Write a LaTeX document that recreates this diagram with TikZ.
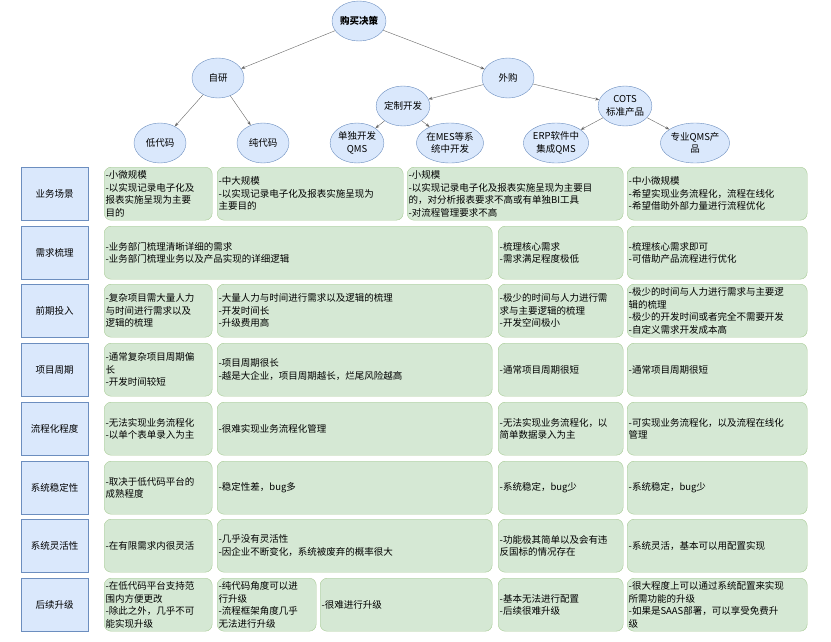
\documentclass[tikz,border=0pt]{standalone}
\usepackage{fontspec}
\setmainfont{Noto Sans CJK SC}
\usetikzlibrary{arrows.meta,shapes.geometric}
\definecolor{bluefill}{HTML}{DAE8FC}
\definecolor{blueline}{HTML}{6C8EBF}
\definecolor{greenfill}{HTML}{D5E8D4}
\definecolor{greenline}{HTML}{82B366}
\tikzset{every node/.style={font=\fontsize{9.5}{12.5}\selectfont}}
\tikzset{choice/.style={ellipse, draw=blueline, fill=bluefill, minimum width=52pt, minimum height=40pt, inner sep=0pt, align=center}}
\tikzset{head/.style={rectangle, draw=blueline, fill=bluefill, line width=0.8pt, minimum height=53pt, align=center}}
\tikzset{cell/.style={rectangle, rounded corners=7pt, draw=greenline!70, fill=greenfill, minimum height=53pt, inner xsep=1.5pt, align=left}}
\tikzset{link/.style={draw=black!60, -{Stealth[length=4pt,width=3pt]}}}
% name, left, right, top, style, text
\newcommand\cell[6]{%
  \pgfmathsetmacro\cw{#3-#2}\pgfmathsetmacro\tw{#3-#2-3}%
  \node[#5, minimum width=\cw pt, text width=\tw pt, anchor=north west] (#1) at (#2,#4) {#6};}

\begin{document}
\begin{tikzpicture}[x=1pt,y=-1pt]
\useasboundingbox (0,0) rectangle (831,641);
% tree
\node[choice, minimum width=54pt, font=\fontsize{9.5}{12.5}\selectfont\bfseries] (root) at (359,21) {购买决策};
\node[choice] (zy) at (218,78) {自研};
\node[choice] (wg) at (508,78) {外购};
\node[choice] (dz) at (403,106) {定制开发};
\node[choice] (cots) at (625,106) {COTS\\标准产品};
\node[choice] (ldm) at (160,143) {低代码};
\node[choice] (cdm) at (263,143) {纯代码};
\node[choice] (djkf) at (357,143) {单独开发\\QMS};
\node[choice] (mes) at (450,143) {在MES等系\\统中开发};
\node[choice] (erp) at (556,143) {ERP软件中\\集成QMS};
\node[choice] (zyqms) at (695,143) {专业QMS产\\品};
\draw[link] (root) -- (zy);
\draw[link] (root) -- (wg);
\draw[link] (zy) -- (ldm);
\draw[link] (zy) -- (cdm);
\draw[link] (wg) -- (dz);
\draw[link] (wg) -- (cots);
\draw[link] (dz) -- (djkf);
\draw[link] (dz) -- (mes);
\draw[link] (cots) -- (erp);
\draw[link] (cots) -- (zyqms);
% row heads
\cell{h1}{21}{84}{167}{head}{业务场景}
\cell{h2}{21}{84}{226}{head}{需求梳理}
\cell{h3}{21}{84}{284}{head}{前期投入}
\cell{h4}{21}{84}{343}{head}{项目周期}
\cell{h5}{21}{84}{402}{head}{流程化程度}
\cell{h6}{21}{84}{461}{head}{系统稳定性}
\cell{h7}{21}{84}{519}{head}{系统灵活性}
\cell{h8}{21}{84}{578}{head}{后续升级}
% row 1
\cell{a1}{104}{212}{167}{cell}{-小微规模\\-以实现记录电子化及\\报表实施呈现为主要\\目的}
\cell{b1}{217}{403}{167}{cell}{-中大规模\\-以实现记录电子化及报表实施呈现为\\主要目的}
\cell{c1}{407}{623}{167}{cell}{-小规模\\-以实现记录电子化及报表实施呈现为主要目\\的，对分析报表要求不高或有单独BI工具\\-对流程管理要求不高}
\cell{d1}{627}{807}{167}{cell}{-中小微规模\\-希望实现业务流程化，流程在线化\\-希望借助外部力量进行流程优化}
% row 2
\cell{a2}{104}{492}{226}{cell}{-业务部门梳理清晰详细的需求\\-业务部门梳理业务以及产品实现的详细逻辑}
\cell{c2}{498}{623}{226}{cell}{-梳理核心需求\\-需求满足程度极低}
\cell{d2}{627}{807}{226}{cell}{-梳理核心需求即可\\-可借助产品流程进行优化}
% row 3
\cell{a3}{104}{212}{284}{cell}{-复杂项目需大量人力\\与时间进行需求以及\\逻辑的梳理}
\cell{b3}{217}{492}{284}{cell}{-大量人力与时间进行需求以及逻辑的梳理\\-开发时间长\\-升级费用高}
\cell{c3}{498}{623}{284}{cell}{-极少的时间与人力进行需\\求与主要逻辑的梳理\\-开发空间极小}
\cell{d3}{627}{807}{284}{cell}{-极少的时间与人力进行需求与主要逻\\辑的梳理\\-极少的开发时间或者完全不需要开发\\-自定义需求开发成本高}
% row 4
\cell{a4}{104}{212}{343}{cell}{-通常复杂项目周期偏\\长\\-开发时间较短}
\cell{b4}{217}{492}{343}{cell}{-项目周期很长\\-越是大企业，项目周期越长，烂尾风险越高}
\cell{c4}{498}{623}{343}{cell}{-通常项目周期很短}
\cell{d4}{627}{807}{343}{cell}{-通常项目周期很短}
% row 5
\cell{a5}{104}{212}{402}{cell}{-无法实现业务流程化\\-以单个表单录入为主}
\cell{b5}{217}{492}{402}{cell}{-很难实现业务流程化管理}
\cell{c5}{498}{623}{402}{cell}{-无法实现业务流程化，以\\简单数据录入为主}
\cell{d5}{627}{807}{402}{cell}{-可实现业务流程化，以及流程在线化\\管理}
% row 6
\cell{a6}{104}{212}{461}{cell}{-取决于低代码平台的\\成熟程度}
\cell{b6}{217}{492}{461}{cell}{-稳定性差，bug多}
\cell{c6}{498}{623}{461}{cell}{-系统稳定，bug少}
\cell{d6}{627}{807}{461}{cell}{-系统稳定，bug少}
% row 7
\cell{a7}{104}{212}{519}{cell}{-在有限需求内很灵活}
\cell{b7}{217}{492}{519}{cell}{-几乎没有灵活性\\-因企业不断变化，系统被废弃的概率很大}
\cell{c7}{498}{623}{519}{cell}{-功能极其简单以及会有违\\反国标的情况存在}
\cell{d7}{627}{807}{519}{cell}{-系统灵活，基本可以用配置实现}
% row 8
\cell{a8}{104}{212}{578}{cell}{-在低代码平台支持范\\围内方便更改\\-除此之外，几乎不可\\能实现升级}
\cell{b8}{217}{316}{578}{cell}{-纯代码角度可以进\\行升级\\-流程框架角度几乎\\无法进行升级}
\cell{e8}{320}{492}{578}{cell}{-很难进行升级}
\cell{c8}{498}{623}{578}{cell}{-基本无法进行配置\\-后续很难升级}
\cell{d8}{627}{807}{578}{cell}{-很大程度上可以通过系统配置来实现\\所需功能的升级\\-如果是SAAS部署，可以享受免费升\\级}
\end{tikzpicture}
\end{document}
